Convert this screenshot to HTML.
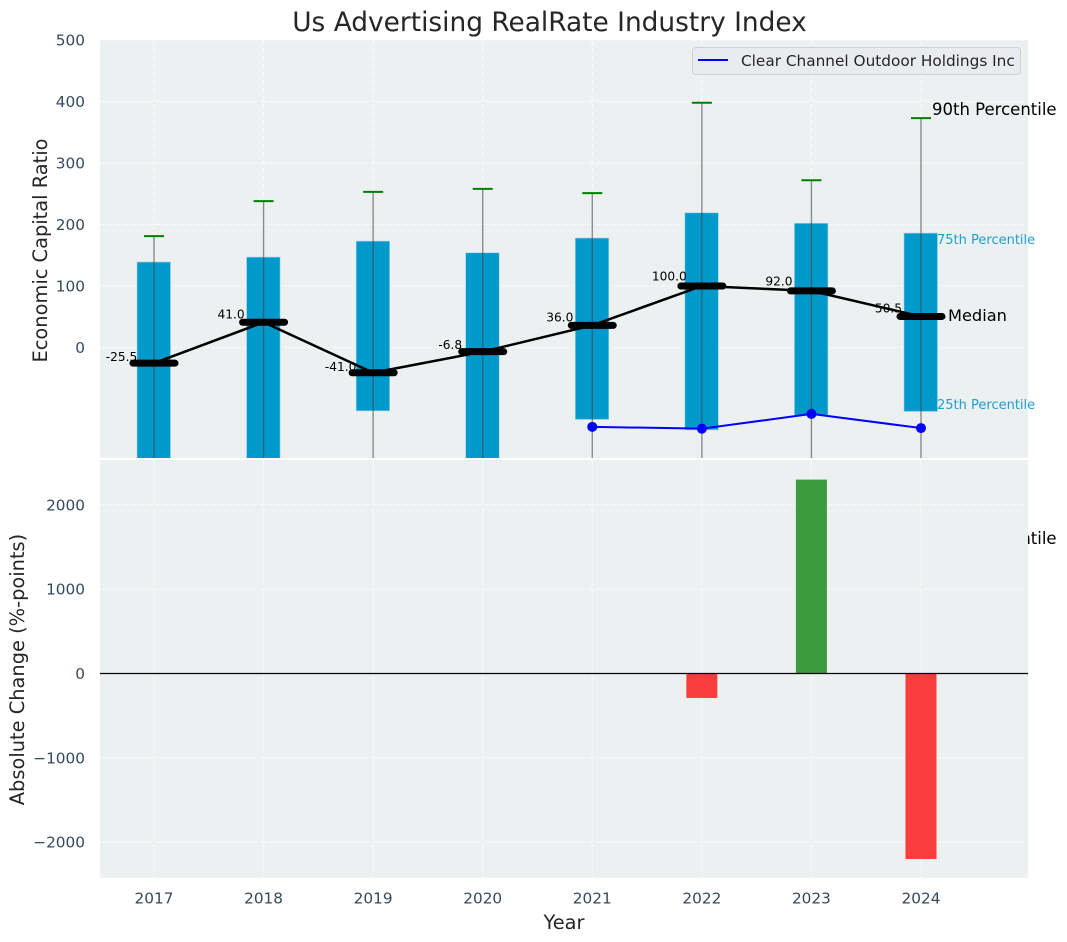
<!DOCTYPE html>
<html>
<head>
<meta charset="utf-8">
<style>
html,body{margin:0;padding:0;background:#fff;width:1067px;height:942px;overflow:hidden}
svg{display:block;font-family:"DejaVu Sans","Liberation Sans",sans-serif}
</style>
</head>
<body>
<svg id="chart" xmlns="http://www.w3.org/2000/svg" width="1067" height="942" viewBox="0 0 1067 942">
<defs>
<clipPath id="clip-top"><rect x="100" y="40" width="928" height="418"/></clipPath>
<clipPath id="clip-bottom"><rect x="100" y="460" width="928" height="418"/></clipPath>
</defs>
<text x="549.5" y="31" font-size="26.4" fill="#262626" text-anchor="middle">Us Advertising RealRate Industry Index</text>
<text transform="translate(47,250.5) rotate(-90)" font-size="19.4" fill="#262626" text-anchor="middle">Economic Capital Ratio</text>
<text transform="translate(24,669.5) rotate(-90)" font-size="19.4" fill="#262626" text-anchor="middle">Absolute Change (%-points)</text>
<text x="564" y="929" font-size="19.4" fill="#262626" text-anchor="middle">Year</text>
<rect x="100" y="40" width="928" height="418" fill="#ecf0f1"/>
<g id="top-grid"></g>
<g id="top-bars" clip-path="url(#clip-top)"></g>
<g id="top-labels"></g>
<g id="top-marks" clip-path="url(#clip-top)"></g>
<text x="932" y="115" font-size="16.5" fill="#000">90th Percentile</text>
<text x="948" y="321" font-size="16.2" fill="#000">Median</text>
<text x="937" y="244" font-size="13" fill="#1f9fd0">75th Percentile</text>
<text x="937" y="409" font-size="13" fill="#1f9fd0">25th Percentile</text>
<text x="932" y="544" font-size="16.5" fill="#000">90th Percentile</text>
<rect x="100" y="460" width="928" height="418" fill="#ecf0f1"/>
<g id="bottom-grid"></g>
<g id="bottom-marks" clip-path="url(#clip-bottom)"></g>
<g id="ticks"></g>
<g>
<rect x="692.5" y="47.5" width="328" height="27" rx="3.5" fill="#e9ebf1" stroke="#d0d2d6" stroke-width="1"/>
<line x1="698" y1="60" x2="728" y2="60" stroke="#0000ff" stroke-width="2"/>
<text x="741" y="66" font-size="15.3" fill="#262626">Clear Channel Outdoor Holdings Inc</text>
</g>
</svg>
<script>
const years = [2017, 2018, 2019, 2020, 2021, 2022, 2023, 2024];
const p90 = [181, 238, 253, 258, 251, 398, 272, 373];
const p75 = [139, 147, 173, 154, 178, 219, 202, 186];
const medians = [-25.5, 41.0, -41.0, -6.8, 36.0, 100.0, 92.0, 50.5];
const p25 = [-220, -210, -103, -230, -117, -134, -110, -104];
const p10 = [-400, -400, -400, -400, -400, -400, -400, -400];
const companyYears = [2021, 2022, 2023, 2024];
const companyValues = [-129, -132, -108, -131];
const changeYears = [2022, 2023, 2024];
const changeValues = [-290, 2300, -2200];
const topTicks = [0, 100, 200, 300, 400, 500];
const bottomTicks = [-2000, -1000, 0, 1000, 2000];

const NS = 'http://www.w3.org/2000/svg';
const xAxis = v => 154 + (v - 2017) * 109.57;
const yTop = v => 347.5 - v * 0.615;
const yBottom = v => 673.5 - v * 0.0843;

function make(tag, parent, attrs, text) {
  const el = document.createElementNS(NS, tag);
  for (const k in attrs) el.setAttribute(k, attrs[k]);
  if (text !== undefined) el.textContent = text;
  parent.appendChild(el);
  return el;
}

const topGrid = document.getElementById('top-grid');
const bottomGrid = document.getElementById('bottom-grid');
const topBars = document.getElementById('top-bars');
const topLabels = document.getElementById('top-labels');
const topMarks = document.getElementById('top-marks');
const bottomMarks = document.getElementById('bottom-marks');
const tickLayer = document.getElementById('ticks');
const gridStyle = {stroke: '#ffffff', 'stroke-width': 1.2, 'stroke-dasharray': '5 3', opacity: 0.7};

years.forEach(year => {
  const px = xAxis(year);
  const a = make('line', topGrid, {x1: px, x2: px, y1: 40, y2: 458, ...gridStyle});
  
  
  const b = make('line', bottomGrid, {x1: px, x2: px, y1: 460, y2: 878, ...gridStyle});
  
  
  const t = make('text', tickLayer, {x: px, y: 903.5, 'font-size': 15.3, fill: '#34495e', 'text-anchor': 'middle'}, String(year));
  
  
});

topTicks.forEach(tick => {
  const py = yTop(tick);
  const g = make('line', topGrid, {x1: 100, x2: 1028, y1: py, y2: py, ...gridStyle});
  
  
  const t = make('text', tickLayer, {x: 85, y: py + 5.5, 'font-size': 15.3, fill: '#34495e', 'text-anchor': 'end'}, String(tick));
  
  
});

bottomTicks.forEach(tick => {
  const py = yBottom(tick);
  const g = make('line', bottomGrid, {x1: 100, x2: 1028, y1: py, y2: py, ...gridStyle});
  
  
  const label = tick < 0 ? '\u2212' + Math.abs(tick) : String(tick);
  const t = make('text', tickLayer, {x: 85, y: py + 5.5, 'font-size': 15.3, fill: '#34495e', 'text-anchor': 'end'}, label);
  
  
});

years.forEach((year, i) => {
  const px = xAxis(year);
  const labelY = yTop(medians[i] * 1.045 + 4.8) + 0.3;
  const label = make('text', topLabels, {x: px - 32.5, y: labelY, 'font-size': 12.2, fill: '#000', 'text-anchor': 'middle'}, medians[i].toFixed(1));
  
  

  const box = make('rect', topBars, {x: px - 17, y: yTop(p75[i]), width: 33.5, height: yTop(p25[i]) - yTop(p75[i]), fill: '#0099cc', stroke: '#9fd6e8', 'stroke-width': 0.6});
  
  

  const whisker = make('line', topBars, {x1: px, x2: px, y1: yTop(p90[i]), y2: yTop(p10[i]), stroke: '#444', 'stroke-width': 1.4, 'stroke-opacity': 0.6});
  
  

  const cap = make('line', topBars, {x1: px - 10, x2: px + 10, y1: yTop(p90[i]), y2: yTop(p90[i]), stroke: '#008000', 'stroke-width': 2});
  
  
});

const medianPath = make('polyline', topMarks, {points: years.map((y, i) => xAxis(y) + ',' + yTop(medians[i])).join(' '), fill: 'none', stroke: '#000', 'stroke-width': 2.5});



years.forEach((year, i) => {
  const px = xAxis(year);
  const bar = make('line', topMarks, {x1: px - 21, x2: px + 21, y1: yTop(medians[i]), y2: yTop(medians[i]), stroke: '#000', 'stroke-width': 7, 'stroke-linecap': 'round'});
  
  
});

const companyPath = make('polyline', topMarks, {points: companyYears.map((y, i) => xAxis(y) + ',' + yTop(companyValues[i])).join(' '), fill: 'none', stroke: '#0000ff', 'stroke-width': 2});



companyYears.forEach((year, i) => {
  const dot = make('circle', topMarks, {cx: xAxis(year), cy: yTop(companyValues[i]), r: 5, fill: '#0000ff'});
  
  
});

changeYears.forEach((year, i) => {
  const v = changeValues[i];
  const y0 = yBottom(Math.max(v, 0));
  const y1 = yBottom(Math.min(v, 0));
  const bar = make('rect', bottomMarks, {x: xAxis(year) - 15.5, y: y0, width: 31, height: y1 - y0, fill: v >= 0 ? '#008000' : '#ff0000', 'fill-opacity': 0.75});
  
  
});

const zero = make('line', bottomMarks, {x1: 100, x2: 1028, y1: yBottom(0), y2: yBottom(0), stroke: '#000', 'stroke-width': 1.2});


</script>
</body>
</html>
